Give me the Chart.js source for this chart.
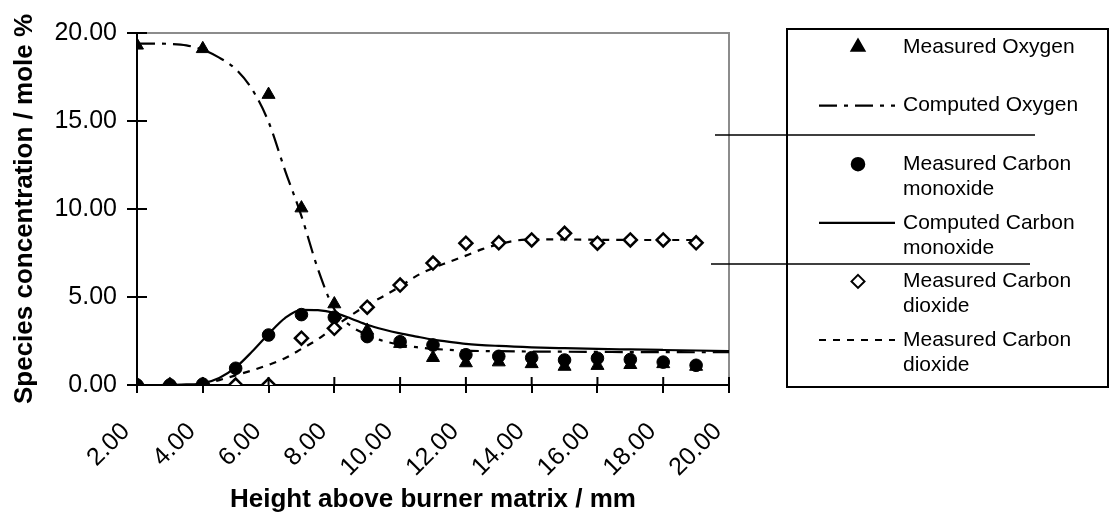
<!DOCTYPE html>
<html>
<head>
<meta charset="utf-8">
<script src="https://cdn.jsdelivr.net/npm/chart.js@4.4.1/dist/chart.umd.min.js"></script>
<style>
  html, body { margin: 0; padding: 0; background: #fff; }
  #wrap { width: 1110px; height: 516px; }
</style>
</head>
<body>
<div id="wrap"><canvas id="chart" width="1110" height="516"></canvas></div>
<script>
// measured points, one per mm
const measuredX   = [2, 3, 4, 5, 6, 7, 8, 9, 10, 11, 12, 13, 14, 15, 16, 17, 18, 19];
const measuredO2  = [19.3, null, 19.1, null, 16.5, 10.05, 4.6, 3.1, 2.35, 1.55, 1.25, 1.3, 1.2, 1.05, 1.1, 1.15, 1.2, 1.05];
const measuredCO  = [0, 0, 0.05, 0.95, 2.84, 4.0, 3.85, 2.75, 2.46, 2.27, 1.72, 1.63, 1.55, 1.42, 1.52, 1.45, 1.3, 1.12];
const measuredCO2 = [0, 0, 0, 0, 0, 2.66, 3.22, 4.42, 5.68, 6.93, 8.06, 8.08, 8.24, 8.62, 8.06, 8.24, 8.24, 8.08];

// computed profiles
const computedX  = [2, 2.5, 3, 3.5, 4, 4.5, 5, 5.5, 6, 6.5, 7, 7.5, 8, 8.5, 9, 9.5, 10, 10.5, 11, 11.5, 12, 13, 14, 15, 16, 17, 18, 19, 20];
const computedO2 = [19.4, 19.4, 19.38, 19.3, 19.05, 18.6, 17.95, 16.8, 14.95, 12.2, 9.6, 6.6, 4.3, 3.35, 2.85, 2.5, 2.3, 2.15, 2.05, 2.0, 1.95, 1.92, 1.9, 1.89, 1.88, 1.87, 1.87, 1.86, 1.86];
const computedCO = [0, 0, 0.01, 0.03, 0.1, 0.4, 1.0, 1.9, 2.9, 3.8, 4.27, 4.25, 4.1, 3.78, 3.42, 3.15, 2.93, 2.75, 2.58, 2.45, 2.34, 2.22, 2.14, 2.09, 2.05, 2.02, 1.99, 1.96, 1.93];

const co2LineX = [4, 4.5, 5, 5.5, 6, 6.5, 7, 7.5, 8, 8.5, 9, 9.5, 10, 10.5, 11, 11.5, 12, 12.5, 13, 13.5, 14, 15, 16, 17, 18, 19];
const co2Line  = [0, 0.28, 0.55, 0.83, 1.15, 1.52, 2.05, 2.6, 3.3, 3.95, 4.55, 5.05, 5.6, 6.2, 6.65, 7.0, 7.35, 7.72, 8.0, 8.2, 8.27, 8.27, 8.25, 8.24, 8.24, 8.24];

const legendLabels = [
  ['Measured Oxygen'],
  ['Computed Oxygen'],
  ['Measured Carbon', 'monoxide'],
  ['Computed Carbon', 'monoxide'],
  ['Measured Carbon', 'dioxide'],
  ['Measured Carbon', 'dioxide']
];

const FONT = "'Liberation Sans', Arial, sans-serif";

function pts(xs, ys) {
  return xs.map((x, i) => ({x: x, y: ys[i]})).filter(p => p.y !== null);
}

// cross-over tick marks inside the plot
const crossTicks = {
  id: 'crossTicks',
  afterDatasetsDraw(chart) {
    const {ctx, chartArea, scales} = chart;
    ctx.save();
    ctx.strokeStyle = '#000';
    ctx.lineWidth = 2;
    ctx.beginPath();
    scales.x.ticks.forEach(t => {
      const px = scales.x.getPixelForValue(t.value);
      ctx.moveTo(px, chartArea.bottom);
      ctx.lineTo(px, chartArea.bottom - 8);
    });
    scales.y.ticks.forEach(t => {
      const py = scales.y.getPixelForValue(t.value);
      ctx.moveTo(chartArea.left, py);
      ctx.lineTo(chartArea.left + 10, py);
    });
    ctx.stroke();
    ctx.restore();
  }
};

// grey top/right frame of the plot area
const plotFrame = {
  id: 'plotFrame',
  beforeDatasetsDraw(chart) {
    const {ctx, chartArea: a} = chart;
    ctx.save();
    ctx.strokeStyle = '#8c8c8c';
    ctx.lineWidth = 2;
    ctx.beginPath();
    ctx.moveTo(a.left, a.top);
    ctx.lineTo(a.right, a.top);
    ctx.lineTo(a.right, a.bottom);
    ctx.stroke();
    ctx.restore();
  }
};

function marker(ctx, style, x, y, r, fill) {
  ctx.beginPath();
  if (style === 'triangle') {
    for (let k = 0; k < 3; k++) {
      const ang = k * 2 * Math.PI / 3;
      const px = x + Math.sin(ang) * r, py = y - Math.cos(ang) * r;
      if (k === 0) ctx.moveTo(px, py); else ctx.lineTo(px, py);
    }
    ctx.closePath();
  } else if (style === 'circle') {
    ctx.arc(x, y, r, 0, Math.PI * 2);
  } else {
    ctx.moveTo(x, y - r); ctx.lineTo(x + r, y); ctx.lineTo(x, y + r); ctx.lineTo(x - r, y);
    ctx.closePath();
  }
  ctx.fillStyle = fill;
  ctx.fill();
  ctx.lineWidth = 2;
  ctx.strokeStyle = '#000';
  ctx.stroke();
}

// boxed legend on the right, plus the two stray rules
const boxLegend = {
  id: 'boxLegend',
  afterDraw(chart) {
    const ctx = chart.ctx;
    const bx = 787, by = 29, bw = 321, bh = 358;
    ctx.save();
    ctx.strokeStyle = '#000';
    ctx.lineWidth = 2;
    ctx.strokeRect(bx, by, bw, bh);

    ctx.lineWidth = 1.6;
    ctx.beginPath();
    ctx.moveTo(715, 135); ctx.lineTo(1035, 135);
    ctx.moveTo(711, 264); ctx.lineTo(1030, 264);
    ctx.stroke();

    ctx.font = '21px ' + FONT;
    ctx.textBaseline = 'middle';
    ctx.textAlign = 'left';
    chart.data.datasets.forEach((ds, i) => {
      const cy = by + 18 + i * 58.6;
      if (ds.showLine === false) {
        marker(ctx, ds.pointStyle, bx + 71, cy, ds.pointRadius, ds.pointBackgroundColor);
      } else {
        ctx.save();
        ctx.strokeStyle = '#000';
        ctx.lineWidth = ds.borderWidth;
        ctx.setLineDash(ds.borderDash || []);
        ctx.beginPath();
        ctx.moveTo(bx + 32, cy);
        ctx.lineTo(bx + 108, cy);
        ctx.stroke();
        ctx.restore();
      }
      ctx.fillStyle = '#000';
      legendLabels[i].forEach((line, j) => ctx.fillText(line, bx + 116, cy + j * 25));
    });
    ctx.restore();
  }
};

new Chart(document.getElementById('chart'), {
  type: 'scatter',
  data: {
    datasets: [
      {
        label: legendLabels[0].join(' '),
        data: pts(measuredX, measuredO2),
        showLine: false,
        pointStyle: 'triangle',
        pointRadius: 7.5,
        pointBackgroundColor: '#000',
        pointBorderColor: '#000',
        pointBorderWidth: 1,
        order: 0
      },
      {
        label: legendLabels[1].join(' '),
        data: pts(computedX, computedO2),
        showLine: true,
        borderColor: '#000',
        borderWidth: 2.2,
        borderDash: [18, 7, 4, 7],
        pointRadius: 0,
        cubicInterpolationMode: 'monotone',
        order: 2
      },
      {
        label: legendLabels[2].join(' '),
        data: pts(measuredX, measuredCO),
        showLine: false,
        pointStyle: 'circle',
        pointRadius: 6.3,
        pointBackgroundColor: '#000',
        pointBorderColor: '#000',
        pointBorderWidth: 1,
        order: 0.2
      },
      {
        label: legendLabels[3].join(' '),
        data: pts(computedX, computedCO),
        showLine: true,
        borderColor: '#000',
        borderWidth: 2.2,
        pointRadius: 0,
        cubicInterpolationMode: 'monotone',
        order: 2
      },
      {
        label: legendLabels[4].join(' '),
        data: pts(measuredX, measuredCO2),
        showLine: false,
        pointStyle: 'rectRot',
        pointRadius: 6.5,
        pointBackgroundColor: '#fff',
        pointBorderColor: '#000',
        pointBorderWidth: 2.5,
        order: 0.4
      },
      {
        label: legendLabels[5].join(' '),
        data: pts(co2LineX, co2Line),
        showLine: true,
        borderColor: '#000',
        borderWidth: 2.2,
        borderDash: [7, 7],
        pointRadius: 0,
        cubicInterpolationMode: 'monotone',
        order: 2
      }
    ]
  },
  options: {
    responsive: false,
    animation: false,
    devicePixelRatio: 1,
    layout: { padding: { left: 0, top: 33, right: 381, bottom: 0 } },
    plugins: {
      legend: { display: false },
      tooltip: { enabled: false }
    },
    scales: {
      x: {
        type: 'linear',
        min: 2,
        max: 20,
        afterFit(scale) { scale.height = 131; },
        ticks: {
          stepSize: 2,
          autoSkip: false,
          minRotation: 45,
          maxRotation: 45,
          padding: 24,
          labelOffset: -11,
          color: '#000',
          font: { family: FONT, size: 25 },
          callback: v => v.toFixed(2)
        },
        grid: { drawOnChartArea: false, drawTicks: true, tickLength: 8, color: '#000', lineWidth: 2 },
        border: { color: '#000', width: 2 },
        title: {
          display: true,
          text: 'Height above burner matrix / mm',
          color: '#000',
          font: { family: FONT, size: 26, weight: 'bold' },
          padding: { top: 0, bottom: 1 }
        }
      },
      y: {
        min: 0,
        max: 20,
        afterFit(scale) { scale.width = 137; },
        ticks: {
          stepSize: 5,
          padding: 10,
          color: '#000',
          font: { family: FONT, size: 25 },
          callback: v => v.toFixed(2)
        },
        grid: { drawOnChartArea: false, drawTicks: true, tickLength: 10, color: '#000', lineWidth: 2 },
        border: { color: '#000', width: 2 },
        title: {
          display: true,
          text: 'Species concentration / mole %',
          color: '#000',
          font: { family: FONT, size: 26, weight: 'bold' },
          padding: { top: 9, bottom: 0 }
        }
      }
    }
  },
  plugins: [plotFrame, crossTicks, boxLegend]
});
</script>
</body>
</html>
